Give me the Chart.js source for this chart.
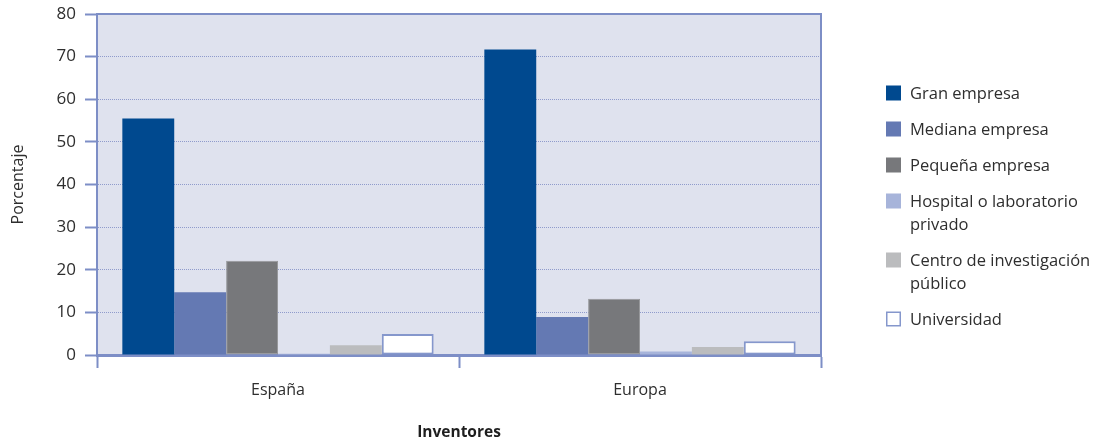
<!DOCTYPE html>
<html>
<head>
<meta charset="utf-8">
<script src="https://cdn.jsdelivr.net/npm/chart.js@4"></script>
<style>
  html, body { margin: 0; padding: 0; background: #fff; }
  #wrap { width: 1098px; height: 442px; }
</style>
</head>
<body>
<div id="wrap"><canvas id="c" width="1098" height="442"></canvas></div>
<script>
// Origin of inventors, by type of institution (percentage)
const categories = ['España', 'Europa'];
const seriesLines = [
  ['Gran empresa'],
  ['Mediana empresa'],
  ['Pequeña empresa'],
  ['Hospital o laboratorio', 'privado'],
  ['Centro de investigación', 'público'],
  ['Universidad']
];
const granEmpresa     = [55.5, 71.7];
const medianaEmpresa  = [14.7, 8.9];
const pequenaEmpresa  = [22.1, 13.2];
const hospitalPrivado = [0.3, 0.8];
const centroPublico   = [2.3, 1.9];
const universidad     = [4.9, 3.2];
const yTicks = [0, 10, 20, 30, 40, 50, 60, 70, 80];
const yTitle = 'Porcentaje';
const xTitle = 'Inventores';

const FONT = "'Open Sans', 'Noto Sans', sans-serif";
const AXIS = '#7d8ec6';
const TEXT = '#2e2e2e';

const styles = [
  { bg: '#00498f', border: '#00498f', bw: 0 },
  { bg: '#6479b3', border: '#6479b3', bw: 0 },
  { bg: '#77787b', border: '#97989b', bw: 1 },
  { bg: '#a7b4da', border: '#a7b4da', bw: 0 },
  { bg: '#bbbcbe', border: '#bbbcbe', bw: 0 },
  { bg: '#ffffff', border: '#8597cc', bw: 2 }
];
const seriesValues = [granEmpresa, medianaEmpresa, pequenaEmpresa, hospitalPrivado, centroPublico, universidad];

const datasets = seriesValues.map((vals, i) => ({
  label: seriesLines[i].join(' '),
  data: vals,
  backgroundColor: styles[i].bg,
  borderColor: styles[i].border,
  borderWidth: styles[i].bw,
  borderSkipped: false,
  categoryPercentage: 0.86,
  barPercentage: 1.0
}));

// Plot background and the top/right frame lines
const frame = {
  id: 'frame',
  beforeDraw(chart) {
    const { ctx, chartArea: a } = chart;
    ctx.save();
    ctx.fillStyle = '#dfe2ee';
    ctx.fillRect(a.left, a.top, a.right - a.left, a.bottom - a.top);
    ctx.restore();
  },
  afterDraw(chart) {
    const { ctx, chartArea: a } = chart;
    ctx.save();
    ctx.strokeStyle = AXIS;
    ctx.lineWidth = 2;
    ctx.beginPath();
    ctx.moveTo(a.left, a.top);
    ctx.lineTo(a.right, a.top);
    ctx.lineTo(a.right, a.bottom);
    ctx.stroke();
    ctx.restore();
  }
};

// Legend on the right with wrapped labels
const sideLegend = {
  id: 'sideLegend',
  afterDraw(chart) {
    const { ctx } = chart;
    const boxX = 886, textX = 910, box = 15, lineH = 23, gap = 36;
    let y = 93;
    ctx.save();
    ctx.font = '16.5px ' + FONT;
    ctx.textBaseline = 'middle';
    chart.data.datasets.forEach((ds, i) => {
      const lines = seriesLines[i];
      ctx.fillStyle = ds.backgroundColor;
      ctx.fillRect(boxX, y - box / 2, box, box);
      if (ds.backgroundColor === '#ffffff') {
        ctx.strokeStyle = ds.borderColor;
        ctx.lineWidth = 1.5;
        ctx.strokeRect(boxX + 0.75, y - box / 2 + 0.75, box - 1.5, box - 1.5);
      }
      ctx.fillStyle = TEXT;
      lines.forEach((t, k) => ctx.fillText(t, textX, y + 1 + k * lineH));
      y += gap + (lines.length - 1) * lineH;
    });
    ctx.restore();
  }
};

new Chart(document.getElementById('c'), {
  type: 'bar',
  data: { labels: categories, datasets },
  plugins: [frame, sideLegend],
  options: {
    responsive: false,
    animation: false,
    devicePixelRatio: 1,
    layout: { padding: { top: 14, right: 277, left: 0, bottom: 0 } },
    plugins: { legend: { display: false }, tooltip: { enabled: false } },
    scales: {
      x: {
        offset: true,
        afterFit: s => { s.height = 87; },
        grid: {
          offset: true,
          drawOnChartArea: false,
          tickLength: 13,
          tickWidth: 2,
          tickColor: AXIS,
          color: AXIS
        },
        border: { color: AXIS, width: 3 },
        ticks: { color: TEXT, font: { family: FONT, size: 16 }, padding: 13 },
        title: {
          display: true,
          text: xTitle,
          color: '#1e1e1e',
          font: { family: FONT, size: 15.5, weight: 'bold' },
          padding: { top: 0, bottom: 0 }
        }
      },
      y: {
        min: 0,
        max: 80,
        afterFit: s => { s.width = 97; s.paddingTop = 0; s.paddingBottom = 0; },
        afterBuildTicks: s => { s.ticks = yTicks.map(v => ({ value: v })); },
        grid: {
          color: '#8f9bcc',
          lineWidth: 1,
          tickLength: 12,
          tickWidth: 2,
          tickColor: AXIS,
          tickBorderDash: []
        },
        border: { color: AXIS, width: 2, dash: [1, 1] },
        ticks: { color: TEXT, font: { family: FONT, size: 17 }, padding: 9 },
        title: {
          display: true,
          text: yTitle,
          color: TEXT,
          font: { family: FONT, size: 16 },
          padding: { top: 9, bottom: 0 }
        }
      }
    }
  }
});
</script>
</body>
</html>
